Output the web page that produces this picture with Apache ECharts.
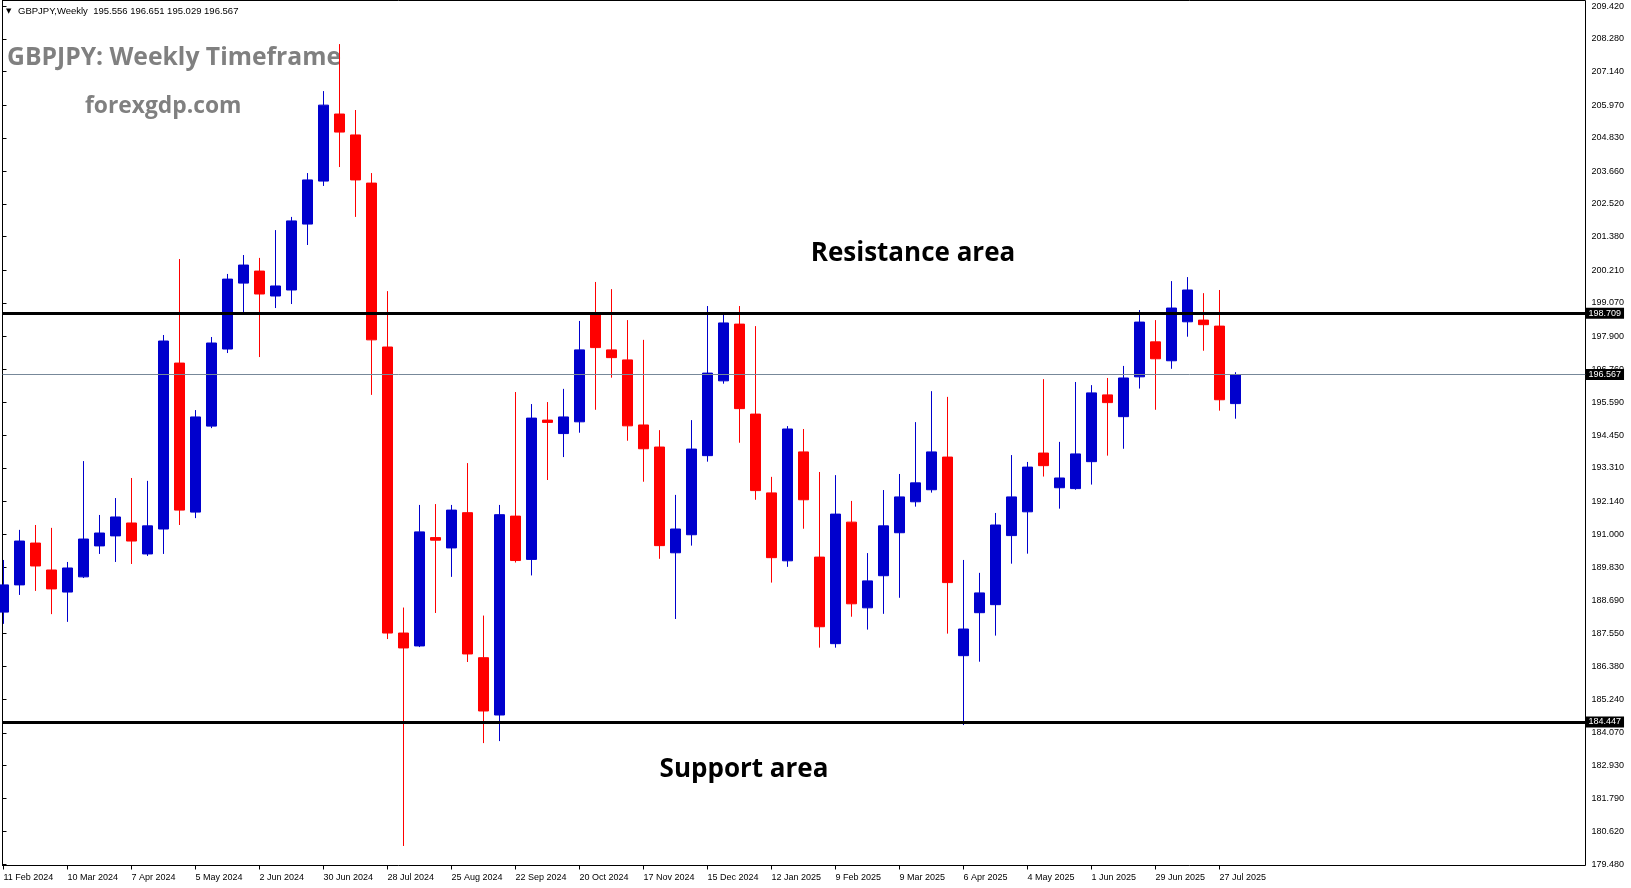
<!DOCTYPE html>
<html>
<head>
<meta charset="utf-8">
<style>
html,body{margin:0;padding:0;background:#fff;}
#chart{width:1631px;height:888px;}
</style>
<script src="https://cdn.jsdelivr.net/npm/echarts@6/dist/echarts.min.js"></script>
</head>
<body>
<div id="chart"></div>
<script>
// ---- data ----
const symbolName = 'GBPJPY,Weekly';
const weeks = [
 '11 Feb 2024','18 Feb 2024','25 Feb 2024','3 Mar 2024','10 Mar 2024','17 Mar 2024','24 Mar 2024','31 Mar 2024',
 '7 Apr 2024','14 Apr 2024','21 Apr 2024','28 Apr 2024','5 May 2024','12 May 2024','19 May 2024','26 May 2024',
 '2 Jun 2024','9 Jun 2024','16 Jun 2024','23 Jun 2024','30 Jun 2024','7 Jul 2024','14 Jul 2024','21 Jul 2024',
 '28 Jul 2024','4 Aug 2024','11 Aug 2024','18 Aug 2024','25 Aug 2024','1 Sep 2024','8 Sep 2024','15 Sep 2024',
 '22 Sep 2024','29 Sep 2024','6 Oct 2024','13 Oct 2024','20 Oct 2024','27 Oct 2024','3 Nov 2024','10 Nov 2024',
 '17 Nov 2024','24 Nov 2024','1 Dec 2024','8 Dec 2024','15 Dec 2024','22 Dec 2024','29 Dec 2024','5 Jan 2025',
 '12 Jan 2025','19 Jan 2025','26 Jan 2025','2 Feb 2025','9 Feb 2025','16 Feb 2025','23 Feb 2025','2 Mar 2025',
 '9 Mar 2025','16 Mar 2025','23 Mar 2025','30 Mar 2025','6 Apr 2025','13 Apr 2025','20 Apr 2025','27 Apr 2025',
 '4 May 2025','11 May 2025','18 May 2025','25 May 2025','1 Jun 2025','8 Jun 2025','15 Jun 2025','22 Jun 2025',
 '29 Jun 2025','6 Jul 2025','13 Jul 2025','20 Jul 2025','27 Jul 2025','3 Aug 2025'
];
const opens = [
 188.28,189.23,190.69,189.75,188.98,189.51,190.59,190.94,191.39,190.31,
 191.18,196.97,191.77,194.77,197.46,199.76,200.18,199.31,199.52,201.82,
 203.32,205.66,204.93,203.25,197.53,187.55,187.10,190.88,190.52,191.75,
 186.69,184.69,191.63,190.12,194.98,194.51,194.92,198.67,197.43,197.08,
 194.81,194.04,190.35,190.98,193.74,196.35,198.33,195.19,192.44,190.07,
 193.87,190.20,187.18,191.42,188.43,189.55,191.05,192.13,192.55,193.69,
 186.76,188.26,188.54,190.95,191.78,193.83,192.62,192.59,193.53,195.86,
 195.10,196.49,197.71,197.05,198.41,198.47,198.26,195.556
];
const highs = [
 190.10,191.15,191.32,191.22,190.03,193.55,191.67,192.26,192.96,192.86,
 197.95,200.60,195.33,197.88,200.08,200.74,200.64,201.61,202.07,203.60,
 206.46,208.10,205.80,203.60,199.48,188.44,192.02,192.05,192.02,193.48,
 188.16,192.02,195.96,195.54,195.61,196.07,198.44,199.80,199.55,198.47,
 197.78,194.63,192.37,194.98,198.96,198.70,198.96,198.26,193.00,194.77,
 194.67,193.17,193.06,192.16,190.34,192.54,193.10,194.91,195.99,195.79,
 190.10,189.65,191.74,193.76,193.52,196.41,194.22,196.31,196.20,196.45,
 196.87,198.82,198.47,199.83,199.97,199.41,199.52,196.651
];
const lows = [
 187.87,188.88,189.02,188.21,187.94,189.47,190.31,190.03,189.96,190.24,
 190.31,191.32,191.56,194.70,197.32,198.72,197.18,198.89,199.03,201.09,
 203.15,203.81,202.07,195.86,187.34,180.12,187.06,188.25,189.51,186.54,
 183.71,183.78,190.01,189.56,192.89,193.69,194.54,195.34,196.46,194.26,
 192.83,190.14,188.04,190.60,193.53,196.25,194.19,192.20,189.31,189.86,
 191.19,187.04,187.04,188.12,187.67,188.22,188.78,191.96,192.45,187.53,
 184.34,186.55,187.46,189.97,190.32,193.01,191.89,192.55,192.73,193.74,
 193.98,196.08,195.34,196.77,197.89,197.40,195.31,195.029
];
const closes = [
 189.23,190.76,189.89,189.09,189.82,190.83,191.04,191.60,190.76,191.29,
 197.74,191.84,195.09,197.67,199.90,200.39,199.38,199.66,201.93,203.36,
 205.97,205.03,203.36,197.78,187.55,187.03,191.08,190.79,191.84,186.82,
 184.83,191.68,190.08,195.05,194.90,195.09,197.43,197.51,197.16,194.78,
 193.98,190.60,191.18,193.97,196.62,198.37,195.38,192.52,190.18,194.67,
 192.20,187.77,191.70,188.57,189.37,191.29,192.30,192.79,193.87,189.31,
 187.69,188.95,191.32,192.30,193.34,193.39,192.96,193.80,195.93,195.59,
 196.45,198.40,197.12,198.89,199.52,198.31,195.69,196.567
];
const priceTicks = [
 209.420,208.280,207.140,205.970,204.830,203.660,202.520,201.380,200.210,199.070,
 197.900,196.760,195.590,194.450,193.310,192.140,191.000,189.830,188.690,187.550,
 186.380,185.240,184.070,182.930,181.790,180.620,179.480
];
const resistanceLevel = 198.709;
const supportLevel = 184.447;
const titleText = 'GBPJPY: Weekly Timeframe';
const siteText = 'forexgdp.com';
const resistanceText = 'Resistance area';
const supportText = 'Support area';

// ---- layout ----
const Y_MAX = 209.621, Y_MIN = 179.439;
const EMPTY_SLOTS = 21;
const cats = weeks.concat(new Array(EMPTY_SLOTS).fill(''));
const ohlc = weeks.map((w, i) => [opens[i], closes[i], lows[i], highs[i]]);
const last = weeks.length - 1;
const bid = closes[last];
const header = symbolName + '  ' + [opens[last], highs[last], lows[last], closes[last]].map(v => v.toFixed(3)).join(' ');

const BLUE = '#0000CD', RED = '#FF0000';
const smallFont = 'Liberation Sans';

function levelLine(value, color, width) {
  return {yAxis: value, lineStyle: {color: color, width: width, type: 'solid'},
          label: {formatter: value.toFixed(3)}};
}

const chart = echarts.init(document.getElementById('chart'), null, {renderer: 'canvas'});
chart.setOption({
  animation: false,
  backgroundColor: '#fff',
  grid: [
    {left: 2.5, top: 0.5, width: 1583, height: 865, show: true, borderColor: '#000', borderWidth: 1, backgroundColor: 'transparent'},
    {left: 3.5, top: 0.5, width: 16 * (cats.length - 1), height: 865, show: false}
  ],
  xAxis: [
    {type: 'value', gridIndex: 0, min: 0, max: 1, show: false},
    {type: 'category', gridIndex: 1, data: cats, boundaryGap: false,
     axisLine: {show: false},
     axisTick: {show: true, length: 4, lineStyle: {color: '#000'},
       interval: (idx, val) => idx % 4 === 0 && val !== ''},
     axisLabel: {show: true, interval: 3, align: 'left', margin: 8, color: '#000',
       fontFamily: smallFont, fontSize: 9},
     splitLine: {show: false}}
  ],
  yAxis: [
    {type: 'value', gridIndex: 0, position: 'right', min: Y_MIN, max: Y_MAX,
     axisLine: {show: true, lineStyle: {color: '#000', width: 1}},
     axisTick: {show: true, length: 4, lineStyle: {color: '#000'}, customValues: priceTicks},
     axisLabel: {show: true, margin: 6, color: '#000', fontFamily: smallFont, fontSize: 9,
       customValues: priceTicks, formatter: v => v.toFixed(3)},
     splitLine: {show: false}},
    {type: 'value', gridIndex: 1, min: Y_MIN, max: Y_MAX, show: false, splitLine: {show: false}}
  ],
  graphic: [
    {type: 'text', x: 6, y: 11, style: {text: '▼', font: '7px "DejaVu Sans"', fill: '#000', textVerticalAlign: 'middle'}},
    {type: 'text', x: 18, y: 11, style: {text: header, font: '9.5px "Liberation Sans"', fill: '#000', textVerticalAlign: 'middle'}},
    {type: 'text', x: 7, y: 58, style: {text: titleText, font: 'bold 24.7px "Open Sans"', fill: '#808080', textVerticalAlign: 'middle'}},
    {type: 'text', x: 85, y: 107, style: {text: siteText, font: 'bold 22.8px "Open Sans"', fill: '#808080', textVerticalAlign: 'middle'}},
    {type: 'text', x: 913, y: 254, style: {text: resistanceText, font: 'bold 26px "Open Sans"', fill: '#000', textAlign: 'center', textVerticalAlign: 'middle'}},
    {type: 'text', x: 744, y: 770, style: {text: supportText, font: 'bold 26px "Open Sans"', fill: '#000', textAlign: 'center', textVerticalAlign: 'middle'}}
  ],
  series: [
    {type: 'candlestick', xAxisIndex: 1, yAxisIndex: 1, data: ohlc, barWidth: 10, clip: true,
     itemStyle: {color: BLUE, color0: RED, borderColor: BLUE, borderColor0: RED, borderWidth: 1}},
    {type: 'line', xAxisIndex: 0, yAxisIndex: 0, data: [], silent: true,
     markLine: {silent: true, symbol: ['none', 'none'], animation: false, precision: 3,
       label: {show: true, position: 'end', distance: 0,
         backgroundColor: '#000', color: '#fff', padding: [1, 3, 1, 3], fontFamily: smallFont, fontSize: 9},
       data: [
         levelLine(bid, '#778899', 1),
         levelLine(resistanceLevel, '#000', 3),
         levelLine(supportLevel, '#000', 3)
       ]}}
  ]
});
</script>
</body>
</html>
